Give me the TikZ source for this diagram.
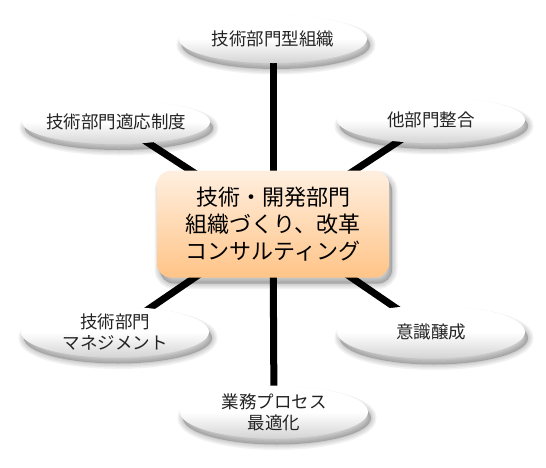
\documentclass[tikz,border=0pt]{standalone}
\usepackage{fontspec}
\newfontfamily\jp{Noto Sans CJK JP}
\usetikzlibrary{shapes.geometric}
\pgfdeclarelayer{sheet}
\pgfdeclarelayer{bg}
\pgfsetlayers{sheet,bg,main}
\definecolor{boxtop}{RGB}{255,239,224}
\definecolor{boxbot}{RGB}{255,196,135}
\definecolor{elbot}{RGB}{212,212,212}
\definecolor{txt}{RGB}{35,35,35}
\tikzset{
  shlayer/.style={preaction={transform canvas={shift={(3pt,-6pt)}}, draw=black, fill=black, opacity=0.05, line width=#1}},
  softshadow/.style={shlayer=11pt, shlayer=8pt, shlayer=5pt, shlayer=2pt},
  ell/.style={ellipse, minimum width=188pt, inner sep=-40pt, align=center,
    top color=white, bottom color=elbot, middle color=white,
    font=\jp\fontsize{17.5}{21}\selectfont, text=txt, softshadow},
  hub/.style={rectangle, rounded corners=14pt, minimum width=232pt, minimum height=107pt,
    inner sep=0pt, align=center, top color=boxtop, bottom color=boxbot,
    font=\jp\fontsize{22}{27}\selectfont, text=black, softshadow},
  spoke/.style={line width=7pt, black}
}
\begin{document}
\begin{tikzpicture}[x=1pt,y=-1pt]
\useasboundingbox (0,0) rectangle (546,467);
\begin{pgfonlayer}{sheet}
\fill[white] (0,0) rectangle (546,467);
\end{pgfonlayer}
\node[ell, minimum height=48pt] (t) at (273,39) {技術部門型組織};
\node[ell, minimum height=44pt] (lt) at (116,122) {技術部門適応制度};
\node[ell, minimum height=46pt] (rt) at (431,120) {他部門整合};
\node[ell, minimum height=51pt] (lb) at (115,332) {技術部門\\マネジメント};
\node[ell, minimum height=53pt] (rb) at (431,332) {意識醸成};
\node[ell, minimum height=53pt] (b) at (274,412) {業務プロセス\\最適化};
\node[hub] (hub) at (273,224) {技術・開発部門\\組織づくり、改革\\コンサルティング};
\begin{pgfonlayer}{bg}
\draw[spoke] (hub.center) -- (t.center);
\draw[spoke] (hub.center) -- (lt.center);
\draw[spoke] (hub.center) -- (rt.center);
\draw[spoke] (hub.center) -- (lb.center);
\draw[spoke] (hub.center) -- (rb.center);
\draw[spoke] (hub.center) -- (b.center);
\end{pgfonlayer}
\end{tikzpicture}
\end{document}
